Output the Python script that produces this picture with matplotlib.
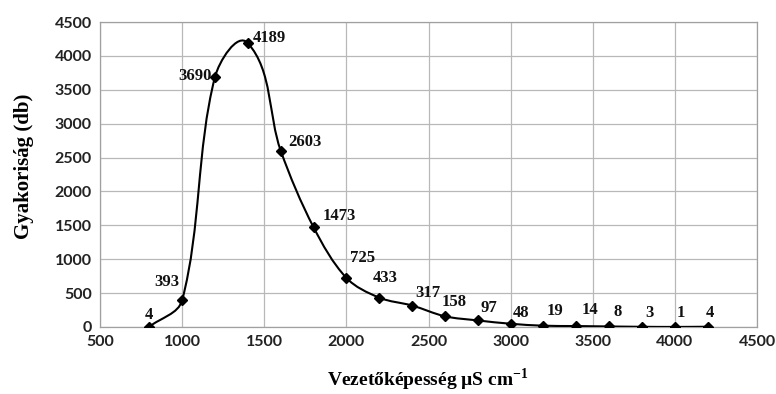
import matplotlib
matplotlib.use("Agg")
import matplotlib.pyplot as plt
import numpy as np
from matplotlib.path import Path
from matplotlib.patches import PathPatch

plt.rcParams["mathtext.fontset"] = "custom"
plt.rcParams["mathtext.rm"] = "Liberation Serif"
plt.rcParams["mathtext.bf"] = "Liberation Serif:bold"

conductivity = [800, 1000, 1200, 1400, 1600, 1800, 2000, 2200, 2400, 2600,
                2800, 3000, 3200, 3400, 3600, 3800, 4000, 4200]
frequency = [4, 393, 3690, 4189, 2603, 1473, 725, 433, 317, 158,
             97, 48, 19, 14, 8, 3, 1, 4]
x_ticks = [500, 1000, 1500, 2000, 2500, 3000, 3500, 4000, 4500]
y_ticks = [0, 500, 1000, 1500, 2000, 2500, 3000, 3500, 4000, 4500]
# label offsets in pixels (dx, dy) relative to each point
label_offsets = [(0, 12), (-15, 18), (-20, 1), (22, 5), (24, 9), (26, 11),
                 (16, 20), (6, 20), (16, 13), (9, 14), (11, 12), (10, 11),
                 (12, 15), (14, 16), (8, 14), (7, 14), (6, 14), (2, 14)]

fig = plt.figure(figsize=(7.76, 3.94), dpi=100)
ax = fig.add_axes([100/776, 1-327/394, 657/776, 305/394])

ax.set_xlim(500, 4500)
ax.set_ylim(0, 4500)
ax.set_xticks(x_ticks)
ax.set_yticks(y_ticks)
ax.grid(True, color="#b8b8b8", linewidth=0.9)
ax.set_axisbelow(True)
for s in ax.spines.values():
    s.set_color("#a0a0a0")
    s.set_linewidth(0.9)
ax.tick_params(length=0, pad=6)
for lab in ax.get_xticklabels() + ax.get_yticklabels():
    lab.set_fontfamily("Lato")
    lab.set_fontweight("bold")
    lab.set_fontsize(11.5)
    lab.set_color("#222222")

# smoothed line: Bezier segments with handles scaled by segment length,
# computed in display space (spreadsheet-style smoothing)
P_data = np.column_stack([conductivity, frequency]).astype(float)
P = ax.transData.transform(P_data)
n = len(P)
tang = np.zeros_like(P)
for i in range(n):
    a = P[i - 1] if i > 0 else P[i]
    b = P[i + 1] if i < n - 1 else P[i]
    d = b - a
    tang[i] = d / np.linalg.norm(d)
verts = [P[0]]
codes = [Path.MOVETO]
for i in range(n - 1):
    seg = np.linalg.norm(P[i + 1] - P[i])
    c1 = P[i] + tang[i] * seg / 3.0
    c2 = P[i + 1] - tang[i + 1] * seg / 3.0
    verts += [c1, c2, P[i + 1]]
    codes += [Path.CURVE4] * 3
verts = ax.transData.inverted().transform(np.array(verts))
ax.add_patch(PathPatch(Path(verts, codes), facecolor="none",
                       edgecolor="black", linewidth=1.5, zorder=3))
ax.plot(conductivity, frequency, linestyle="none", marker="D",
        markersize=5.5, color="black", zorder=4)

for x, y, (dx, dy) in zip(conductivity, frequency, label_offsets):
    ax.annotate(str(y), (x, y), xytext=(dx, dy), textcoords="offset pixels",
                ha="center", va="center", fontfamily="Liberation Serif",
                fontweight="bold", fontsize=12, color="#111111", zorder=5)

fig.text(24/776, 1-166/394, "Gyakoriság (db)", rotation=90, ha="center",
         va="center", fontfamily="Liberation Serif", fontweight="bold",
         fontsize=15)
fig.text(428/776, 1-380/394, "Vezetőképesség µS cm$^{\\mathbf{-1}}$",
         ha="center", va="center", fontfamily="Liberation Serif",
         fontweight="bold", fontsize=14)

fig.savefig("out.png", dpi=100)
